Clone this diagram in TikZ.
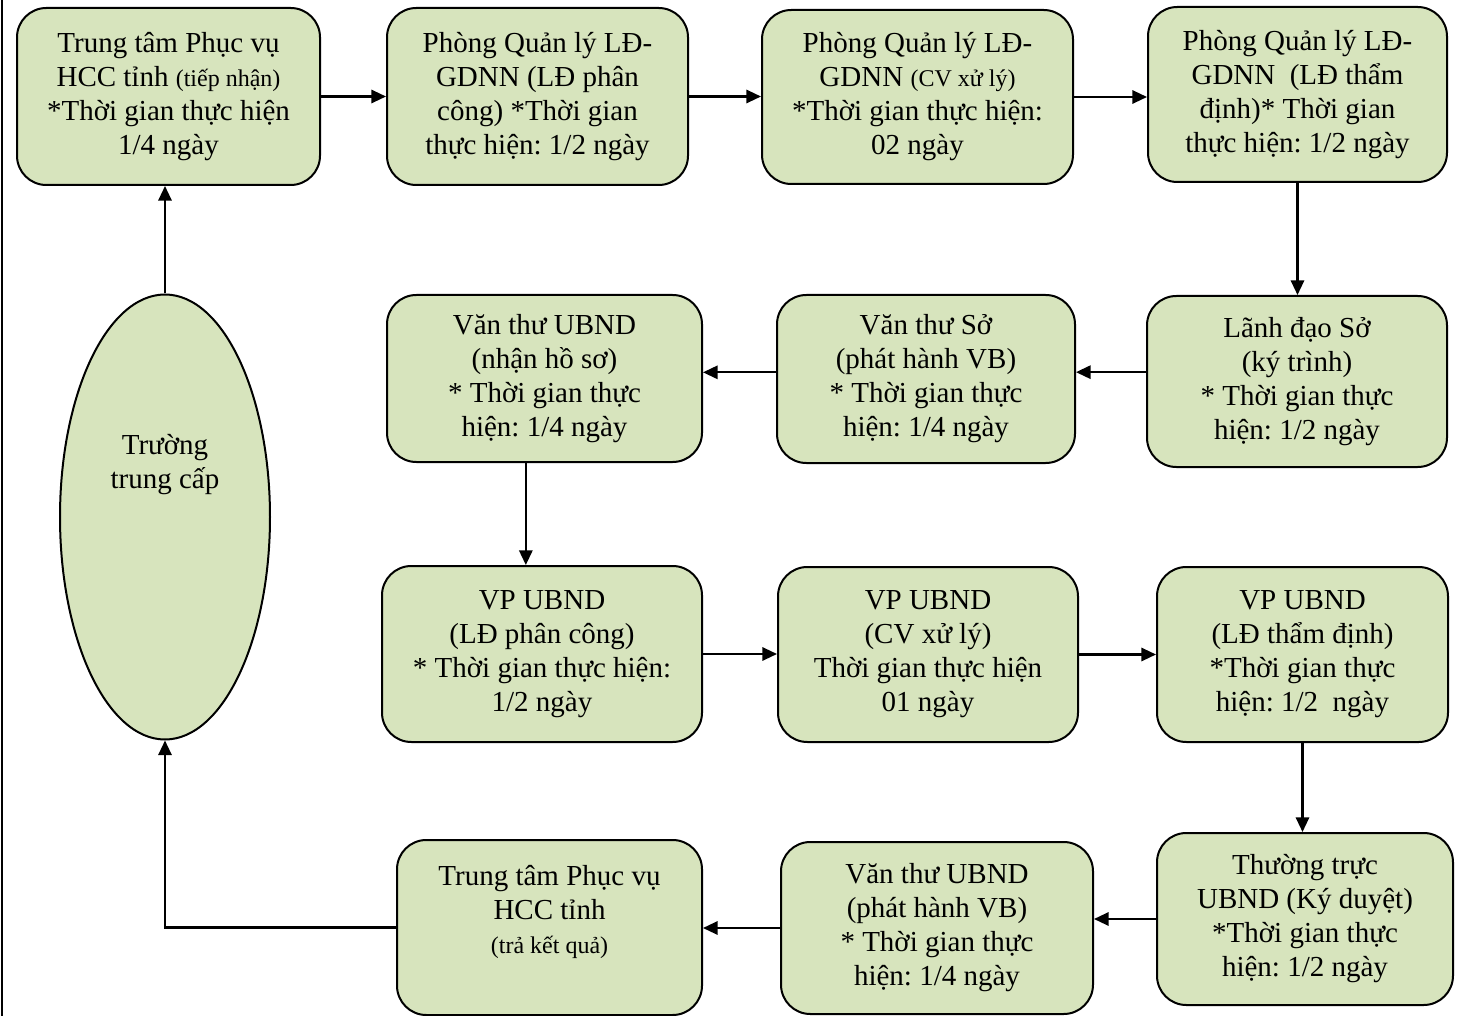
\documentclass[tikz,border=0pt]{standalone}
\usepackage{fontspec}
\setmainfont{Liberation Serif}
\usetikzlibrary{arrows.meta, shapes.geometric}
\definecolor{boxgreen}{HTML}{D7E4BD}
\newcommand{\nho}{\fontsize{18}{25.5}\selectfont}
\frenchspacing

\begin{document}
\begin{tikzpicture} [x=0.75pt, y=-0.75pt,
    boxtext/.style={align=center, inner sep=0pt, font=\fontsize{21.75}{25.5}\selectfont},
    box/.style={boxtext, draw, line width=1.5pt, fill=boxgreen, rounded corners=22pt},
    boxsize/.style 2 args={minimum width=#1*0.75pt, minimum height=#2*0.75pt},
    flow/.style={-{Triangle[length=11pt,width=10pt]}, line width=1.6pt}]
        \useasboundingbox (0,0) rectangle (1472,1016);
        \draw [line width=1.5pt] (2,0) -- (2,1016);

        % hang 1
        \node (hcc1) [box, boxsize={303}{177}] at (168.5,96.5)
        {Trung tâm Phục vụ\\HCC tỉnh {\nho(tiếp nhận)}\\*Thời gian thực hiện\\1/4 ngày};
        \node (ldpc) [box, boxsize={301}{177}] at (537.5,96.5)
        {Phòng Quản lý LĐ-\\GDNN (LĐ phân\\công) *Thời gian\\thực hiện: 1/2 ngày};
        \node (cvxl) [box, boxsize={311}{174}] at (917.5,97)
        {Phòng Quản lý LĐ-\\GDNN {\nho(CV xử lý)}\\*Thời gian thực hiện:\\02 ngày};
        \node (ltd) [box, boxsize={299}{175}] at (1297.5,94.5)
        {Phòng Quản lý LĐ-\\GDNN\ \ (LĐ thẩm\\định)* Thời gian\\thực hiện: 1/2 ngày};

        % hang 2
        \node (lds) [box, boxsize={300}{171}] at (1297,381.5)
        {Lãnh đạo Sở\\(ký trình)\\* Thời gian thực\\hiện: 1/2 ngày};
        \node (vtso) [box, boxsize={298}{168}] at (926,379)
        {Văn thư Sở\\(phát hành VB)\\* Thời gian thực\\hiện: 1/4 ngày};
        \node (vtubnd) [box, boxsize={315}{167}] at (544.5,378.5)
        {Văn thư UBND\\(nhận hồ sơ)\\* Thời gian thực\\hiện: 1/4 ngày};

        % hang 3
        \node (vppc) [box, boxsize={320}{176}] at (542,654)
        {VP UBND\\(LĐ phân công)\\* Thời gian thực hiện:\\1/2 ngày};
        \node (vpxl) [box, boxsize={300}{175}] at (928,654.5)
        {VP UBND\\(CV xử lý)\\Thời gian thực hiện\\01 ngày};
        \node (vptd) [box, boxsize={291}{175}] at (1302.5,654.5)
        {VP UBND\\(LĐ thẩm định)\\*Thời gian thực\\hiện: 1/2\ \ ngày};

        % hang 4
        \node (ttr) [box, boxsize={296}{172}] at (1305,919)
        {Thường trực\\UBND (Ký duyệt)\\*Thời gian thực\\hiện: 1/2 ngày};
        \node (vtph) [box, boxsize={312}{172}] at (937,928)
        {Văn thư UBND\\(phát hành VB)\\* Thời gian thực\\hiện: 1/4 ngày};
        \node (hcc2) [box, boxsize={305}{175}] at (549.5,927.5) {};
        \node (hcc2txt) [boxtext, anchor=north, yshift=-19.5pt] at (hcc2.north)
        {Trung tâm Phục vụ\\HCC tỉnh\\{\nho(trả kết quả)}};

        \node (truong) [ellipse, draw, line width=1.5pt, fill=boxgreen, inner sep=0pt,
        boxsize={210}{445}] at (165,517) {};
        \node (truongtxt) [boxtext, yshift=39pt] at (truong.center) {Trường\\trung cấp};

        \path
        (truong.north) edge [flow] (truong.north |- hcc1.south)
        (hcc1.east) edge [flow] (hcc1.east -| ldpc.west)
        (ldpc.east) edge [flow] (ldpc.east -| cvxl.west)
        (cvxl.east) edge [flow] (cvxl.east -| ltd.west)
        (ltd.south) edge [flow] (ltd.south |- lds.north)
        ([yshift=7pt]lds.west) edge [flow] ([yshift=7pt]lds.west -| vtso.east)
        ([yshift=5pt]vtso.west) edge [flow] ([yshift=5pt]vtso.west -| vtubnd.east)
        ([xshift=-14pt]vtubnd.south) edge [flow] ([xshift=-14pt]vtubnd.south |- vppc.north)
        (vppc.east) edge [flow] (vppc.east -| vpxl.west)
        (vpxl.east) edge [flow] (vpxl.east -| vptd.west)
        (vptd.south) edge [flow] (vptd.south |- ttr.north)
        (ttr.west) edge [flow] (ttr.west -| vtph.east)
        (vtph.west) edge [flow] (vtph.west -| hcc2.east)
        ;
        \draw [flow] (hcc2.west) -| (truong.south);
    \end{tikzpicture}
\end{document}
